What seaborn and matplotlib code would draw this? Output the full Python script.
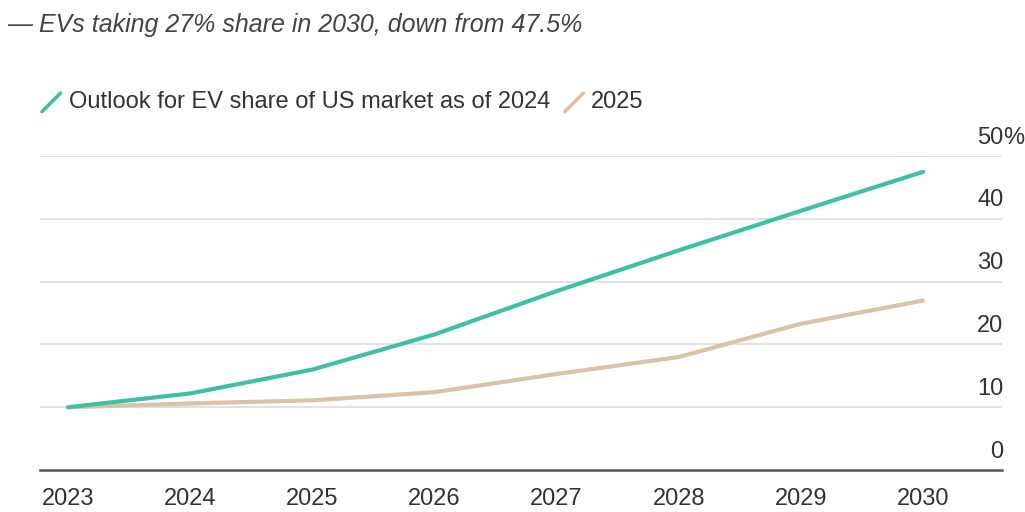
import matplotlib
matplotlib.use("Agg")
import matplotlib.pyplot as plt
import matplotlib.transforms as mtransforms
from matplotlib.lines import Line2D
import pandas as pd
import seaborn as sns

# EV share of the US market (%), outlook by year of publication
years = [2023, 2024, 2025, 2026, 2027, 2028, 2029, 2030]
outlook_2024 = [10.0, 12.2, 16.0, 21.6, 28.5, 35.0, 41.3, 47.5]
outlook_2025 = [10.0, 10.6, 11.1, 12.4, 15.3, 18.0, 23.3, 27.0]
series_names = ["Outlook for EV share of US market as of 2024", "2025"]
y_ticks = [0, 10, 20, 30, 40, 50]

TEAL = "#3fbfa4"
BEIGE = "#d9c2aa"
TEXT = "#333333"
FS = 17

df = pd.DataFrame({
    "year": years * 2,
    "share": outlook_2024 + outlook_2025,
    "outlook": [series_names[0]] * len(years) + [series_names[1]] * len(years),
})

sns.set_style("white")
plt.rcParams["font.family"] = ["Liberation Sans", "DejaVu Sans"]

fig = plt.figure(figsize=(10.25, 5.12), dpi=100)
ax = fig.add_axes([0.039, 0.082, 0.939, 0.613])

# horizontal gridlines
for v in y_ticks[1:]:
    ax.axhline(v, color="#dedede", lw=1.3, zorder=0)

sns.lineplot(data=df, x="year", y="share", hue="outlook",
             palette={series_names[0]: TEAL, series_names[1]: BEIGE},
             hue_order=[series_names[1], series_names[0]],
             lw=3.0, legend=False, ax=ax, solid_capstyle="round")

ax.set_xlim(2022.77, 2030.65)
ax.set_ylim(0, 50)
ax.set_xlabel("")
ax.set_ylabel("")

for side in ["top", "right", "left"]:
    ax.spines[side].set_visible(False)
ax.spines["bottom"].set_color("#555555")
ax.spines["bottom"].set_linewidth(1.8)

ax.set_xticks(years)
ax.set_xticklabels([str(y) for y in years])
ax.tick_params(axis="x", length=7, width=1.2, color="#555555",
               labelsize=FS, labelcolor=TEXT, pad=6, direction="out")
ax.set_yticks([])

# y labels sit above their gridlines, at the right edge
trans = mtransforms.blended_transform_factory(ax.transAxes, ax.transData)
offset = mtransforms.ScaledTranslation(0, 9 / 72, fig.dpi_scale_trans)
for v in y_ticks:
    ax.text(1.001, v, str(v), transform=trans + offset, ha="right", va="baseline",
            fontsize=FS, color=TEXT)
ax.text(1.001, y_ticks[-1], "%", transform=trans + offset, ha="left", va="baseline",
        fontsize=FS, color=TEXT)

# subtitle
fig.text(0.007, 0.951, "— EVs taking 27% share in 2030, down from 47.5%",
         fontsize=18, style="italic", color="#444444", ha="left", va="center")

# legend with slash markers
def slash(x0, color):
    fig.add_artist(Line2D([x0, x0 + 0.018], [0.782, 0.818], color=color, lw=2.6,
                          solid_capstyle="round", transform=fig.transFigure))

slash(0.041, TEAL)
fig.text(0.067, 0.8, series_names[0], fontsize=FS, color=TEXT, ha="left", va="center")
slash(0.551, BEIGE)
fig.text(0.576, 0.8, series_names[1], fontsize=FS, color=TEXT, ha="left", va="center")

fig.savefig("out.png", dpi=100, facecolor="white")
